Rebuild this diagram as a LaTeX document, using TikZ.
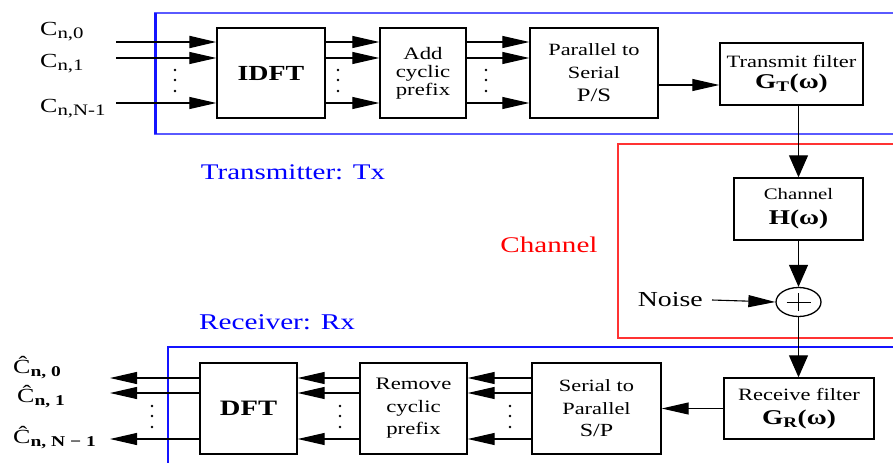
\documentclass[tikz,border=0pt]{standalone}
\usepackage{fontspec}
\setmainfont{Liberation Serif}[FakeStretch=1.3]
\usetikzlibrary{arrows.meta,shapes.geometric}
\newcommand{\fsz}[1]{\fontsize{#1}{#1}\selectfont}
\definecolor{txblue}{RGB}{90,90,255}
\definecolor{rxblue}{RGB}{20,20,255}
\definecolor{chred}{RGB}{255,50,50}
\begin{document}
\begin{tikzpicture}[x=1pt,y=-1pt,
  blk/.style={draw,line width=1.4pt,inner sep=0pt,align=center},
  arr/.style={-{Triangle[length=27pt,width=12pt]},line width=1.1pt},
  arrV/.style={-{Triangle[length=22pt,width=19pt]},line width=1.1pt},
  lbl/.style={inner sep=0pt,anchor=base west},
  dotm/.style={fill=black}]
\useasboundingbox (0,0) rectangle (893,463);
% frames
\draw[txblue,line width=2pt] (893,13) -- (155,13) -- (155,133.5) -- (893,133.5);
\draw[rxblue,line width=3pt] (155,13) -- (155,133.5);
\draw[chred,line width=1.5pt] (893,144) -- (618,144) -- (618,338) -- (893,338);
\draw[rxblue,line width=2.2pt] (893,347) -- (168,347) -- (168,463);
% frame labels
\node[inner sep=0pt,text=blue,font=\fsz{22.3}] (txl) at (293,172) {Transmitter: Tx};
\node[inner sep=0pt,text=blue,font=\fsz{22.5}] (rxl) at (277,322) {Receiver: Rx};
\node[inner sep=0pt,text=red,font=\fsz{22.4}] (chl) at (549,245) {Channel};
% transmitter blocks
\node[blk,minimum width=108pt,minimum height=90pt,font=\fsz{21.5}\bfseries] (idft) at (271,73) {IDFT};
\node[blk,minimum width=86pt,minimum height=90pt,font=\fontsize{17.5}{18}\selectfont] (acp) at (423,73) {Add\\cyclic\\prefix};
\node[blk,minimum width=128pt,minimum height=90pt,font=\fontsize{17.2}{23}\selectfont] (ps) at (594,73) {Parallel to\\Serial\\{\fontsize{19}{23}\selectfont P/S}};
\node[blk,minimum width=143pt,minimum height=62pt,font=\fontsize{17.3}{21}\selectfont] (tf) at (791.5,74) {Transmit filter\\{\fontsize{21}{21}\selectfont\bfseries G\textsubscript{T}(ω)}};
% channel
\node[blk,minimum width=129pt,minimum height=62pt,font=\fontsize{16}{25}\selectfont] (ch) at (798.5,209) {Channel\\{\fontsize{21}{25}\selectfont\bfseries H(ω)}};
\node[draw,ellipse,line width=1.3pt,minimum width=45pt,minimum height=29pt,inner sep=0pt] (add) at (798.5,302) {};
\draw[line width=1pt] (add.center) +(-12,0) -- +(12,0);
\draw[line width=1pt] (add.center) +(0,-9) -- +(0,9);
\node[inner sep=0pt,anchor=east,font=\fsz{21.4}] (noise) at (703,300) {Noise};
% receiver blocks
\node[blk,minimum width=150pt,minimum height=61pt,font=\fontsize{17.3}{24}\selectfont] (rf) at (799,408.5) {Receive filter\\{\fontsize{21}{24}\selectfont\bfseries G\textsubscript{R}(ω)}};
\node[blk,minimum width=129pt,minimum height=91pt,font=\fontsize{17.2}{22.5}\selectfont] (sp) at (596.5,408.5) {Serial to\\Parallel\\{\fontsize{18.5}{22.5}\selectfont S/P}};
\node[blk,minimum width=107pt,minimum height=91pt,font=\fontsize{17.5}{22.5}\selectfont] (rcp) at (413.5,408.5) {Remove\\cyclic\\prefix};
\node[blk,minimum width=97pt,minimum height=91pt,font=\fsz{22}\bfseries] (dft) at (248.5,408.5) {DFT};
% input labels
\node[lbl,font=\fsz{20}] (c0) at (40,35) {C\textsubscript{\fsz{16}n,0}};
\node[lbl,font=\fsz{20}] (c1) at (40,67) {C\textsubscript{\fsz{16}n,1}};
\node[lbl,font=\fsz{20}] (cN) at (40,112) {C\textsubscript{\fsz{16}n,N-1}};
% output labels
\node[lbl,font=\fsz{20}] (h0) at (13,373) {Ĉ\textsubscript{\fsz{15}\bfseries n, 0}};
\node[lbl,font=\fsz{20}] (h1) at (17,402) {Ĉ\textsubscript{\fsz{15}\bfseries n, 1}};
\node[lbl,font=\fsz{20}] (hN) at (13,443) {Ĉ\textsubscript{\fsz{15}\bfseries n, N − 1}};
% line levels
\coordinate (i0) at (116,42);
\coordinate (i1) at (116,58);
\coordinate (i2) at (116,103);
\coordinate (o0) at (110,378);
\coordinate (o1) at (110,393);
\coordinate (o2) at (110,439);
\coordinate (psy) at (600,85);
% transmitter arrows
\draw[arr,line width=2pt] (i0) -- (i0 -| idft.west);
\draw[arr] (i1) -- (i1 -| idft.west);
\draw[arr] (i2) -- (i2 -| idft.west);
\foreach \c in {i0,i1,i2}{
  \draw[arr] (\c -| idft.east) -- (\c -| acp.west);
  \draw[arr] (\c -| acp.east) -- (\c -| ps.west);
}
\draw[arr] (psy -| ps.east) -- (psy -| tf.west);
\draw[arrV] (tf.south -| ch.north) -- (ch.north);
\draw[arrV] (ch.south) -- (add.north);
\draw[arr] ([xshift=9pt]noise.east) -- (add.west);
\draw[arrV] (add.south) -- (add.south |- rf.north);
% receiver arrows
\draw[arr] (rf.west) -- (sp.east);
\foreach \c in {o0,o1,o2}{
  \draw[arr] (\c -| sp.west) -- (\c -| rcp.east);
  \draw[arr] (\c -| rcp.west) -- (\c -| dft.east);
  \draw[arr] (\c -| dft.west) -- (\c);
}
% ellipsis dots
\foreach \x in {175,338,486}{
  \foreach \y in {70,80,91}{\fill[dotm] (\x,\y) circle (1.3pt);}
}
\foreach \x in {152,340,510}{
  \foreach \y in {406,416,427}{\fill[dotm] (\x,\y) circle (1.3pt);}
}
\end{tikzpicture}
\end{document}
